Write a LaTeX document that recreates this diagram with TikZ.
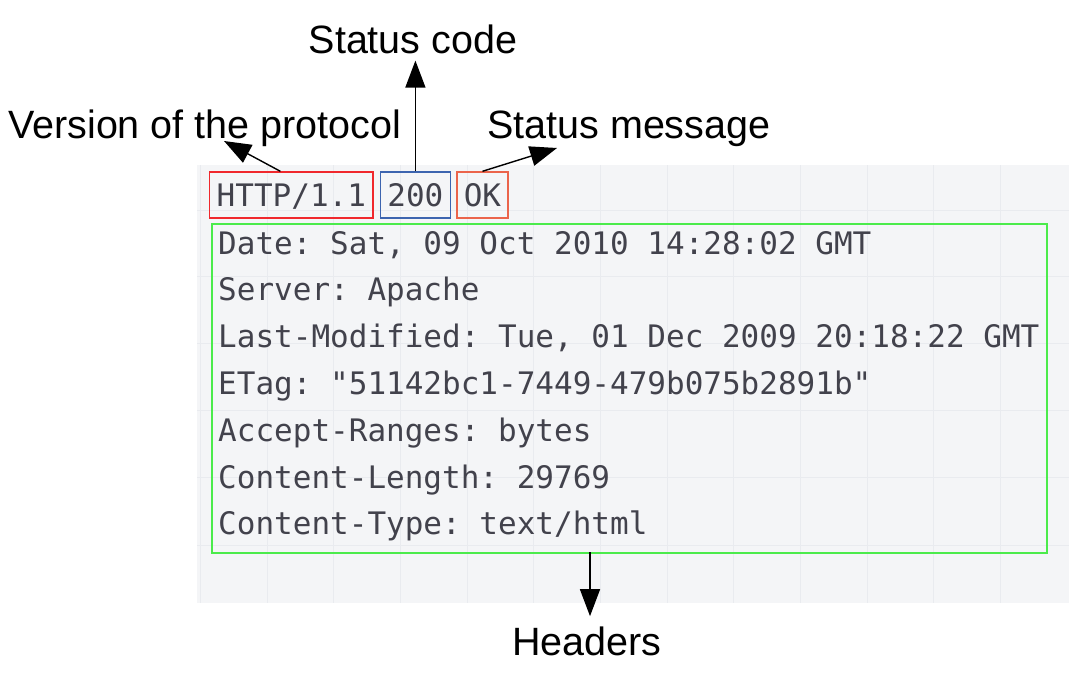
\documentclass[tikz,border=0pt]{standalone}
\usepackage{fontspec}
\setmainfont{Liberation Sans}
\setmonofont{DejaVu Sans Mono}
\usepackage{xcolor}
\usepackage{tikz}
\usetikzlibrary{arrows.meta,positioning}
\definecolor{msgtext}{RGB}{66,66,76}
\definecolor{gridbg}{RGB}{244,245,247}
\definecolor{gridline}{RGB}{233,235,239}
\definecolor{versionred}{RGB}{240,40,45}
\definecolor{codeblue}{RGB}{60,100,175}
\definecolor{msgorange}{RGB}{235,100,75}
\definecolor{headgreen}{RGB}{75,235,75}

\tikzset{
  annot/.style={font=\fontsize{39.5}{47}\selectfont, text=black, inner sep=0pt},
  msgline/.style={font=\fontsize{31}{37}\selectfont\ttfamily, text=msgtext, inner sep=0pt, anchor=base west},
  partbox/.style={msgline, line width=1.4pt, inner xsep=7pt, inner ysep=0pt, text height=34pt, text depth=12pt},
  arr/.style={-{Triangle[length=27pt,width=20pt]}, line width=1.4pt}
}

\begin{document}
\begin{tikzpicture}[x=1pt,y=-1pt]
\useasboundingbox (0,0) rectangle (1091,687);

% message background with its faint grid
\fill[gridbg] (197,165) rectangle (1069,603);
\foreach \gx in {200,267,333,400,467,533,600,667,733,800,867,933,1000}
  \draw[gridline, line width=0.8pt] (\gx,165) -- (\gx,603);
\foreach \gy in {210,276,343,410,477,545}
  \draw[gridline, line width=0.8pt] (197,\gy) -- (1069,\gy);

% status line
\node (http) [partbox, draw=versionred] at (209,206) {HTTP/1.1};
\node (code) [partbox, draw=codeblue, base right=6pt of http] {200};
\node (ok) [partbox, draw=msgorange, base right=5pt of code] {OK};

% headers
\node (hdrbox) [draw=headgreen, line width=1.6pt, anchor=north west, minimum width=835pt, minimum height=329pt, inner sep=0pt] at (211,223) {};
\foreach \txt [count=\i] in {{Date: Sat, 09 Oct 2010 14:28:02 GMT},
    {Server: Apache},
    {Last-Modified: Tue, 01 Dec 2009 20:18:22 GMT},
    {ETag: "51142bc1-7449-479b075b2891b"},
    {Accept-Ranges: bytes},
    {Content-Length: 29769},
    {Content-Type: text/html}}
  \node (hdr\i) [msgline] at (218,{254+46.8*(\i-1)}) {\txt};

% annotations
\node (version) [annot, anchor=base west] at (8,139) {Version of the protocol};
\node (statuscode) [annot, anchor=base] at (413,54) {Status code};
\node (statusmsg) [annot, anchor=base west] at (487,139) {Status message};
\node (headers) [annot, anchor=base] at (587,655) {Headers};

\coordinate (vertip) at (224,141);
\coordinate (msgtip) at (557,148);
\coordinate (hdrfoot) at (590,552);
\draw[arr] ([xshift=-11pt]http.north) -- (vertip);
\draw[arr] (code.north) -- ([yshift=-6pt]statuscode.south -| code.north);
\draw[arr] (ok.north) -- (msgtip);
\draw[arr] (hdrfoot) -- ([yshift=10pt]headers.north -| hdrfoot);
\end{tikzpicture}
\end{document}
